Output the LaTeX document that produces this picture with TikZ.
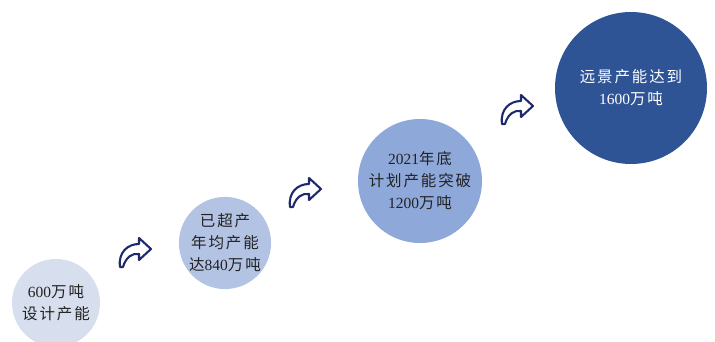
\documentclass[tikz,border=0pt]{standalone}
\usepackage{fontspec}
\setmainfont{Liberation Serif}
\newfontfamily\cjk[LetterSpace=12]{Noto Sans CJK SC}
\definecolor{cA}{HTML}{D7DFEF}
\definecolor{cB}{HTML}{B3C3E3}
\definecolor{cC}{HTML}{8EA8DA}
\definecolor{cD}{HTML}{2E5496}
\definecolor{navy}{HTML}{1F2A6E}
\definecolor{txt}{HTML}{222222}
\begin{document}
\begin{tikzpicture}[x=1pt,y=-1pt,
  bubble/.style={circle,inner sep=0pt,align=center,font=\fontsize{15.5}{22}\selectfont,text=txt},
  flow/.style={draw=navy,line width=2.1pt,fill=white,line join=round}]
\useasboundingbox[fill=white] (0,0) rectangle (715,342);
\node[bubble,fill=cA,minimum size=88pt] (c1) at (56,303) {600{\cjk 万吨}\\{\cjk 设计产能}};
\node[bubble,fill=cB,minimum size=92pt] (c2) at (225,243) {{\cjk 已超产}\\{\cjk 年均产能}\\{\cjk 达}840{\cjk 万吨}};
\node[bubble,fill=cC,minimum size=124pt] (c3) at (420,181) {2021{\cjk 年底}\\{\cjk 计划产能突破}\\1200{\cjk 万吨}};
\node[bubble,fill=cD,minimum size=152pt,text=white] (c4) at (631,88) {{\cjk 远景产能达到}\\1600{\cjk 万吨}};
\foreach \n/\px/\py in {a1/118/238, a2/288/178, a3/500/95}{
  \coordinate (\n) at (\px,\py);
  \draw[flow,shift={(\n)}] (2,29) .. controls (0,14) and (10,6) .. (21,6) -- (21,0) -- (33,11) -- (21,22) -- (21,16) .. controls (14,15) and (8,19) .. (5,29) -- cycle;
}
\end{tikzpicture}
\end{document}
